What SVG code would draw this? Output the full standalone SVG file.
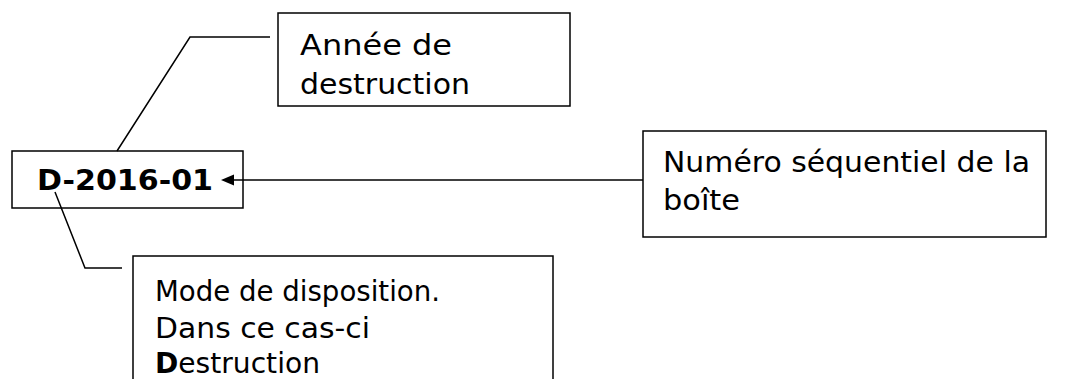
<svg xmlns="http://www.w3.org/2000/svg" width="1066" height="379" viewBox="0 0 1066 379">
<style>
.box{fill:#fff;stroke:#000;stroke-width:1.5}
.t{font-family:"DejaVu Sans","Liberation Sans",sans-serif;font-size:28px;fill:#000}
.b{font-weight:bold}
.c{fill:none;stroke:#000;stroke-width:1.5}
</style>
<g id="node-code">
<rect class="box" x="12" y="151" width="231" height="57"/>
<text class="t b" x="37" y="190" font-size="35" textLength="176" lengthAdjust="spacingAndGlyphs">D-2016-01</text>
</g>
<g id="node-annee">
<rect class="box" x="278" y="13" width="292" height="93"/>
<text class="t" x="300" y="55" textLength="152" lengthAdjust="spacingAndGlyphs">Année de</text>
<text class="t" x="300" y="94" textLength="170" lengthAdjust="spacingAndGlyphs">destruction</text>
</g>
<g id="node-numero">
<rect class="box" x="643" y="131" width="403" height="106"/>
<text class="t" x="663" y="172" textLength="367" lengthAdjust="spacingAndGlyphs">Numéro séquentiel de la</text>
<text class="t" x="663" y="210" textLength="77" lengthAdjust="spacingAndGlyphs">boîte</text>
</g>
<g id="node-mode">
<rect class="box" x="133" y="256" width="420" height="140"/>
<text class="t" x="155" y="301" textLength="285" lengthAdjust="spacingAndGlyphs">Mode de disposition.</text>
<text class="t" x="155" y="338" textLength="215" lengthAdjust="spacingAndGlyphs">Dans ce cas-ci</text>
<text class="t" x="155" y="373" textLength="165" lengthAdjust="spacingAndGlyphs"><tspan class="b">D</tspan>estruction</text>
</g>
<g id="connectors">
<polyline class="c" points="117,151 190,37 270,37"/>
<polyline class="c" points="55,192 85,268 122,268"/>
<line class="c" x1="643" y1="180" x2="233" y2="180"/>
<path d="M221,180 L234,174.5 L234,185.5 Z" fill="#000"/>
</g>
</svg>
